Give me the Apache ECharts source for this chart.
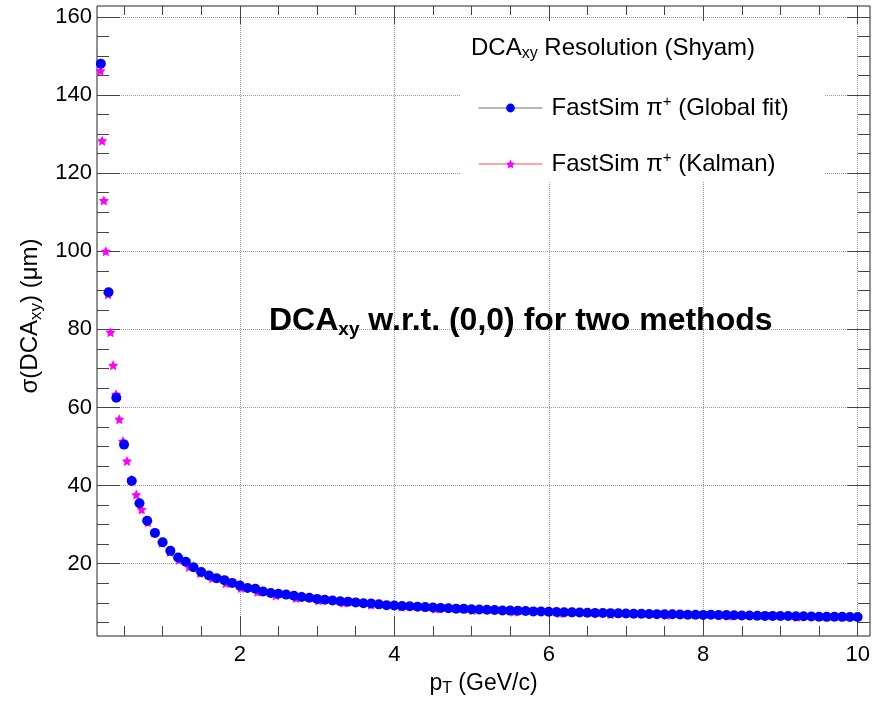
<!DOCTYPE html>
<html><head><meta charset="utf-8">
<script src="https://cdn.jsdelivr.net/npm/echarts@6/dist/echarts.min.js"></script>
<style>html,body{margin:0;padding:0;background:#fff}#c{width:879px;height:702px}</style>
</head><body><div id="c"></div>
<script>
// ---------- data ----------
const ptGlobal = [0.2,0.3,0.4,0.5,0.6,0.7,0.8,0.9,1.0,1.1,1.2,1.3,1.4,1.5,1.6,1.7,1.8,1.9,2.0,
  2.1,2.2,2.3,2.4,2.5,2.6,2.7,2.8,2.9,3.0,3.1,3.2,3.3,3.4,3.5,3.6,3.7,3.8,3.9,4.0,
  4.1,4.2,4.3,4.4,4.5,4.6,4.7,4.8,4.9,5.0,5.1,5.2,5.3,5.4,5.5,5.6,5.7,5.8,5.9,6.0,
  6.1,6.2,6.3,6.4,6.5,6.6,6.7,6.8,6.9,7.0,7.1,7.2,7.3,7.4,7.5,7.6,7.7,7.8,7.9,8.0,
  8.1,8.2,8.3,8.4,8.5,8.6,8.7,8.8,8.9,9.0,9.1,9.2,9.3,9.4,9.5,9.6,9.7,9.8,9.9,10.0];
const sigmaGlobal = [148.0,89.5,62.5,50.5,41.2,35.5,31.0,27.9,25.5,23.3,21.6,20.5,19.1,17.9,17.0,16.3,15.8,15.1,14.4,
  13.8,13.6,12.9,12.5,12.3,12.1,11.8,11.5,11.3,11.0,10.8,10.6,10.4,10.3,10.1,9.9,9.8,9.6,9.4,9.3,
  9.2,9.1,9.0,8.9,8.8,8.7,8.6,8.5,8.45,8.35,8.3,8.2,8.15,8.05,8.0,7.95,7.9,7.8,7.75,7.7,
  7.65,7.6,7.55,7.5,7.45,7.4,7.4,7.35,7.3,7.25,7.2,7.2,7.15,7.1,7.05,7.05,7.0,6.95,6.95,6.9,
  6.95,6.85,6.85,6.8,6.75,6.75,6.7,6.65,6.65,6.6,6.6,6.55,6.55,6.5,6.45,6.4,6.45,6.4,6.35,6.35];
const ptKalman = [0.195,0.216,0.239,0.264,0.293,0.324,0.359,0.397,0.439,0.486,0.538,0.595,0.659,0.729,
  0.807,0.893,0.989,1.095,1.211,1.341,1.484,1.642,1.818,2.012,2.227,2.465,2.728,3.019,3.342,
  3.698,4.093,4.531,5.014,5.550,6.143,6.799,7.525,8.329,9.218];
const sigmaKalman = [146.2,128.3,113.0,100.0,89.0,79.3,70.8,63.4,57.0,51.4,46.3,41.6,37.7,33.9,
  30.6,28.0,25.4,23.0,21.0,19.2,17.6,16.3,15.0,13.8,12.8,11.9,11.2,10.6,10.0,
  9.5,9.0,8.5,8.1,7.7,7.35,7.05,6.8,6.6,6.35];
const xMajorTicks = [2,4,6,8,10];
const xMinorTicks = [0.5,1,1.5,2.5,3,3.5,4.5,5,5.5,6.5,7,7.5,8.5,9,9.5];
const yMajorTicks = [20,40,60,80,100,120,140,160];
const yMinorTicks = [5,10,15,25,30,35,45,50,55,65,70,75,85,90,95,105,110,115,125,130,135,145,150,155];
const seriesNames = ['FastSim π+ (Global fit)','FastSim π+ (Kalman)'];

// ---------- chart ----------
const FONT = "'Liberation Sans', Arial, Helvetica, sans-serif";
const X_MIN = 0.15, X_MAX = 10.16, Y_MIN = 1.5, Y_MAX = 162.8;
const GRID = {left: 97, top: 6, width: 773, height: 630};
const TICK_COLOR = '#444';
const STAR = 'path://M0,-10L2.94,-4.05L9.51,-3.09L4.76,1.55L5.88,8.09L0,5L-5.88,8.09L-4.76,1.55L-9.51,-3.09L-2.94,-4.05Z';

function tickAxis(kind, gridIndex, position, values, len) {
  return {
    type: 'value', gridIndex, position,
    min: kind === 'x' ? X_MIN : Y_MIN, max: kind === 'x' ? X_MAX : Y_MAX,
    axisLine: {show: false},
    axisLabel: {show: false},
    splitLine: {show: false},
    axisTick: {show: true, inside: true, length: len, customValues: values,
      lineStyle: {color: TICK_COLOR, width: 1}}
  };
}

const chart = echarts.init(document.getElementById('c'), null, {renderer: 'canvas'});
const option = {
  animation: false,
  backgroundColor: '#fff',
  grid: [
    Object.assign({show: true, borderColor: '#222', borderWidth: 1, backgroundColor: 'transparent'}, GRID),
    Object.assign({show: false}, GRID),
    Object.assign({show: false}, GRID),
    Object.assign({show: false}, GRID)
  ],
  xAxis: [
    {
      type: 'value', gridIndex: 0, position: 'bottom', min: X_MIN, max: X_MAX,
      axisLine: {show: false},
      axisTick: {show: true, inside: true, length: 20, customValues: xMajorTicks,
        lineStyle: {color: TICK_COLOR, width: 1}},
      axisLabel: {show: true, customValues: xMajorTicks, margin: 8,
        fontFamily: FONT, fontSize: 22, color: '#000'},
      splitLine: {show: true, lineStyle: {color: '#999', width: 1, type: [1, 1]}},
      name: '{a|p}{s|T}{a| (GeV/c)}',
      nameLocation: 'middle', nameGap: 34,
      nameTextStyle: {fontFamily: FONT, fontSize: 23, color: '#000',
        rich: {
          a: {fontFamily: FONT, fontSize: 23, color: '#000', lineHeight: 27, verticalAlign: 'middle'},
          s: {fontFamily: FONT, fontSize: 16, color: '#000', lineHeight: 16, verticalAlign: 'bottom'}
        }}
    },
    tickAxis('x', 1, 'bottom', xMinorTicks, 10),
    tickAxis('x', 2, 'top', xMajorTicks, 18),
    tickAxis('x', 3, 'top', xMinorTicks, 9)
  ],
  yAxis: [
    {
      type: 'value', gridIndex: 0, position: 'left', min: Y_MIN, max: Y_MAX,
      axisLine: {show: false},
      axisTick: {show: true, inside: true, length: 23, customValues: yMajorTicks,
        lineStyle: {color: TICK_COLOR, width: 1}},
      axisLabel: {show: true, customValues: yMajorTicks, margin: 5,
        fontFamily: FONT, fontSize: 22, color: '#000'},
      splitLine: {show: true, lineStyle: {color: '#999', width: 1, type: [1, 1]}},
      name: '{a|σ(DCA}{s|xy}{a|) (μm)}',
      nameLocation: 'middle', nameRotate: 90, nameGap: 44,
      nameTextStyle: {fontFamily: FONT, fontSize: 24, color: '#000', padding: [0, 0, 0, 10],
        rich: {
          a: {fontFamily: FONT, fontSize: 24, color: '#000', lineHeight: 28, verticalAlign: 'middle'},
          s: {fontFamily: FONT, fontSize: 17, color: '#000', lineHeight: 17, verticalAlign: 'bottom'}
        }}
    },
    tickAxis('y', 1, 'left', yMinorTicks, 12),
    tickAxis('y', 2, 'right', yMajorTicks, 23),
    tickAxis('y', 3, 'right', yMinorTicks, 12)
  ],
  legend: {
    orient: 'vertical', left: 473, top: 89,
    itemWidth: 64, itemHeight: 11, itemGap: 30,
    selectedMode: false,
    data: [
      {name: seriesNames[0], lineStyle: {color: '#707070', width: 1, opacity: 1}},
      {name: seriesNames[1], lineStyle: {color: '#ff4d4d', width: 1, opacity: 1}}
    ],
    formatter: function (name) {
      const parts = name.split('π+');
      return '{t|' + parts[0] + 'π}{p|+}{t|' + parts[1] + '}';
    },
    textStyle: {
      fontFamily: FONT, fontSize: 24, color: '#000', padding: [0, 0, 0, 4],
      rich: {
        t: {fontFamily: FONT, fontSize: 24, color: '#000', lineHeight: 28, verticalAlign: 'middle'},
        p: {fontFamily: FONT, fontSize: 15, color: '#000', lineHeight: 15, verticalAlign: 'top'}
      }
    }
  },
  graphic: [
    {type: 'rect', z: 1, shape: {x: 460, y: 21, width: 365, height: 161},
      style: {fill: '#fff', stroke: null}},
    {type: 'text', z: 5, x: 471, y: 48,
      style: {
        text: '{a|DCA}{s|xy}{a| Resolution (Shyam)}',
        textVerticalAlign: 'middle', fill: '#000',
        rich: {
          a: {fontFamily: FONT, fontSize: 24, fill: '#000', lineHeight: 28, verticalAlign: 'middle'},
          s: {fontFamily: FONT, fontSize: 16, fill: '#000', lineHeight: 16, verticalAlign: 'bottom'}
        }
      }},
    {type: 'text', z: 5, x: 269, y: 321,
      style: {
        text: '{a|DCA}{s|xy}{a| w.r.t. (0,0) for two methods}',
        textVerticalAlign: 'middle', fill: '#000',
        rich: {
          a: {fontFamily: FONT, fontSize: 32, fontWeight: 'bold', fill: '#000', lineHeight: 36, verticalAlign: 'middle'},
          s: {fontFamily: FONT, fontSize: 19, fontWeight: 'bold', fill: '#000', lineHeight: 19, verticalAlign: 'bottom'}
        }
      }}
  ],
  series: [
    {
      name: seriesNames[1], type: 'line', xAxisIndex: 0, yAxisIndex: 0, z: 2,
      data: ptKalman.map((x, i) => [x, sigmaKalman[i]]),
      symbol: STAR, symbolSize: 10, showSymbol: true, showAllSymbol: true,
      itemStyle: {color: '#ff00ff', borderWidth: 0},
      lineStyle: {color: '#ff4d4d', width: 0, opacity: 0},
      emphasis: {disabled: true}
    },
    {
      name: seriesNames[0], type: 'line', xAxisIndex: 0, yAxisIndex: 0, z: 3,
      data: ptGlobal.map((x, i) => [x, sigmaGlobal[i]]),
      symbol: 'circle', symbolSize: 10, showSymbol: true, showAllSymbol: true,
      itemStyle: {color: '#0000ff', borderWidth: 0},
      lineStyle: {color: '#808080', width: 0, opacity: 0},
      emphasis: {disabled: true}
    }
  ]
};
chart.setOption(option);
</script>
</body></html>
